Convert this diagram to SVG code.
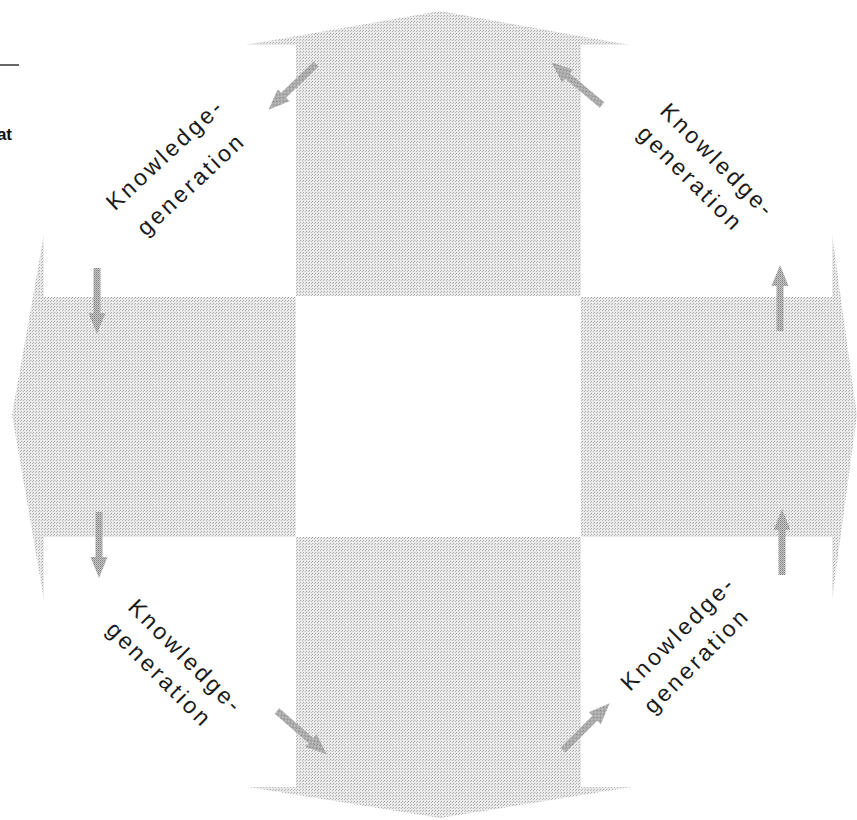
<svg xmlns="http://www.w3.org/2000/svg" width="857" height="820" viewBox="0 0 857 820">
<defs>
<pattern id="stip" width="3" height="3" patternUnits="userSpaceOnUse">
<rect width="3" height="3" fill="#eaeaea"/>
<rect x="0" y="0" width="1" height="1" fill="#ababab"/>
<rect x="2" y="1" width="1" height="1" fill="#b8b8b8"/>
</pattern>
<pattern id="stip2" width="2" height="2" patternUnits="userSpaceOnUse">
<rect width="2" height="2" fill="#c8c8c8"/>
<rect x="0" y="0" width="1" height="1" fill="#808080"/>
<rect x="1" y="1" width="1" height="1" fill="#9c9c9c"/>
</pattern>
<polygon id="arr" points="0,-3.5 45,-3.5 45,-8.5 66,0 45,8.5 45,3.5 0,3.5"/>
</defs>
<style>
.blk{fill:url(#stip)}
.arr{fill:url(#stip2)}
.lbl{font-family:"Liberation Sans",Arial,sans-serif;font-size:23px;letter-spacing:3px;fill:#1a1a1a}
.side{font-family:"Liberation Sans",Arial,sans-serif;font-size:17px;font-weight:bold;fill:#111}
</style>
<rect width="857" height="820" fill="#ffffff"/>

<g id="corner">
<line x1="0" y1="65" x2="19" y2="65" stroke="#333" stroke-width="1.5"/>
<text class="side" x="12" y="140" text-anchor="end">at</text>
</g>

<g id="block-top"><polygon class="blk" points="245,45 440,11 630,45 581,45 581,296 296,296 296,45"/></g>
<g id="block-left"><polygon class="blk" points="44,234 12,415 44,600 44,537 296,537 296,297 44,297"/></g>
<g id="block-right"><polygon class="blk" points="832,234 857,415 832,600 832,537 581,537 581,297 832,297"/></g>
<g id="block-bottom"><polygon class="blk" points="248,787 440,818 632,787 581,787 581,537 296,537 296,787"/></g>
<g id="center"><rect x="296" y="297" width="285" height="240" fill="#ffffff"/></g>

<g id="connectors" class="arr">
<use href="#arr" transform="translate(316,64) rotate(136)"/>
<use href="#arr" transform="translate(602,105) rotate(-140)"/>
<use href="#arr" transform="translate(97,268) rotate(90)"/>
<use href="#arr" transform="translate(99,512) rotate(90)"/>
<use href="#arr" transform="translate(780,331) rotate(-90)"/>
<use href="#arr" transform="translate(782,575) rotate(-90)"/>
<use href="#arr" transform="translate(277,711) rotate(41)"/>
<use href="#arr" transform="translate(563,750) rotate(-45)"/>
</g>

<g id="label-tl">
<text class="lbl" transform="translate(115,211.4) rotate(-43)">Knowledge-</text>
<text class="lbl" transform="translate(145.7,237) rotate(-43)">generation</text>
</g>
<g id="label-tr">
<text class="lbl" transform="translate(658.7,112.5) rotate(45)">Knowledge-</text>
<text class="lbl" transform="translate(636,135) rotate(45)">generation</text>
</g>
<g id="label-bl">
<text class="lbl" transform="translate(126.7,608.5) rotate(45)">Knowledge-</text>
<text class="lbl" transform="translate(105,631) rotate(45)">generation</text>
</g>
<g id="label-br">
<text class="lbl" transform="translate(630,692) rotate(-45)">Knowledge-</text>
<text class="lbl" transform="translate(653,715) rotate(-45)">generation</text>
</g>
</svg>
